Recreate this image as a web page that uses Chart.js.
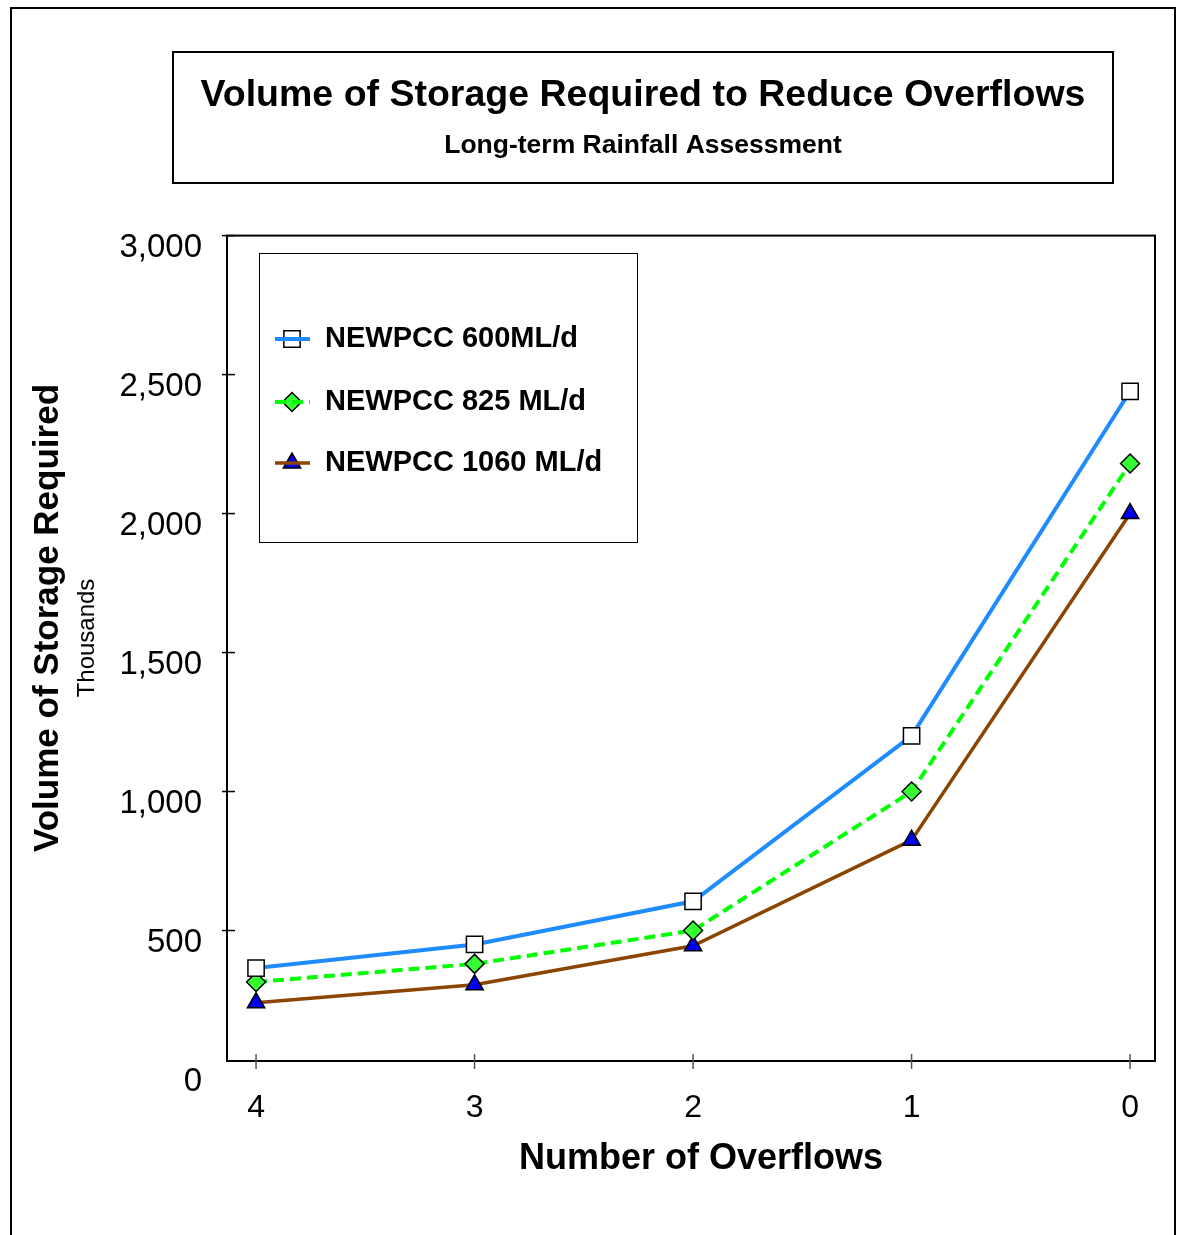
<!DOCTYPE html>
<html>
<head>
<meta charset="utf-8">
<script src="https://cdn.jsdelivr.net/npm/chart.js@4.4.1/dist/chart.umd.min.js"></script>
<style>
  html, body { margin: 0; padding: 0; background: #fff; }
  #wrap { width: 1182px; height: 1235px; }
</style>
</head>
<body>
<div id="wrap"><canvas id="storageChart" width="1182" height="1235"></canvas></div>
<script>
// Datos (miles de m3)
const overflows = [4, 3, 2, 1, 0];
const yTicks = [0, 500, 1000, 1500, 2000, 2500, 3000];
const seriesNames = ['NEWPCC 600ML/d', 'NEWPCC 825 ML/d', 'NEWPCC 1060 ML/d'];
const vol600 = [365, 450, 605, 1200, 2440];
const vol825 = [315, 380, 500, 1000, 2180];
const vol1060 = [240, 305, 445, 825, 2000];

const FONT = "'Liberation Sans', Arial, sans-serif";

function toPoints(values) {
    return overflows.map((x, i) => ({ x: x, y: values[i] }));
}

// Marcos, titulos y leyenda dibujados a mano
const decorPlugin = {
    id: 'decor',
    beforeDatasetsDraw(chart) {
        const ctx = chart.ctx;
        const area = chart.chartArea;
        const xs = chart.scales.x;
        const ys = chart.scales.y;
        const frameBottom = 1061;
        ctx.save();
        // borde exterior
        ctx.strokeStyle = '#000';
        ctx.lineWidth = 2;
        ctx.beginPath();
        ctx.moveTo(11, 1240);
        ctx.lineTo(11, 8);
        ctx.lineTo(1175, 8);
        ctx.lineTo(1175, 1240);
        ctx.stroke();
        // caja del titulo
        ctx.strokeRect(173, 52, 940, 131);
        ctx.fillStyle = '#000';
        ctx.textAlign = 'center';
        ctx.textBaseline = 'middle';
        ctx.font = 'bold 37.5px ' + FONT;
        ctx.fillText('Volume of Storage Required to Reduce Overflows', 643, 96);
        ctx.font = 'bold 26.5px ' + FONT;
        ctx.fillText('Long-term Rainfall Assessment', 643, 146);
        // marco del area de trazado
        ctx.strokeRect(area.left, area.top, area.right - area.left, frameBottom - area.top);
        // marcas del eje y
        ctx.lineWidth = 1.5;
        yTicks.forEach(v => {
            if (v === 0) return;
            const py = ys.getPixelForValue(v);
            ctx.beginPath();
            ctx.moveTo(area.left - 5, py);
            ctx.lineTo(area.left + 8, py);
            ctx.stroke();
        });
        // marcas del eje x
        ctx.strokeStyle = '#555';
        overflows.forEach(v => {
            const px = xs.getPixelForValue(v);
            ctx.beginPath();
            ctx.moveTo(px, frameBottom - 7);
            ctx.lineTo(px, frameBottom + 8);
            ctx.stroke();
        });
        // titulos de ejes
        ctx.fillStyle = '#000';
        ctx.font = 'bold 36px ' + FONT;
        ctx.fillText('Number of Overflows', 701, 1159);
        ctx.save();
        ctx.translate(48, 618);
        ctx.rotate(-Math.PI / 2);
        ctx.font = 'bold 35px ' + FONT;
        ctx.fillText('Volume of Storage Required', 0, 0);
        ctx.restore();
        ctx.save();
        ctx.translate(87, 638);
        ctx.rotate(-Math.PI / 2);
        ctx.font = '24px ' + FONT;
        ctx.fillText('Thousands', 0, 0);
        ctx.restore();
        ctx.restore();
    },
    afterDatasetsDraw(chart) {
        const ctx = chart.ctx;
        ctx.save();
        ctx.fillStyle = '#fff';
        ctx.fillRect(259, 253, 378, 289);
        ctx.strokeStyle = '#000';
        ctx.lineWidth = 1;
        ctx.strokeRect(259.5, 253.5, 378, 289);
        const rows = [339, 402, 463];
        chart.data.datasets.forEach((ds, i) => {
            const y = rows[i];
            ctx.fillStyle = ds.pointBackgroundColor;
            ctx.strokeStyle = ds.pointBorderColor;
            ctx.lineWidth = ds.pointBorderWidth;
            Chart.helpers.drawPoint(ctx, {
                pointStyle: ds.pointStyle,
                radius: ds.pointRadius,
                rotation: 0,
                borderWidth: ds.pointBorderWidth
            }, 292, y);
            ctx.strokeStyle = ds.borderColor;
            ctx.lineWidth = ds.borderWidth;
            ctx.setLineDash(ds.borderDash || []);
            ctx.beginPath();
            ctx.moveTo(275, y);
            ctx.lineTo(310, y);
            ctx.stroke();
            ctx.setLineDash([]);
            ctx.fillStyle = '#000';
            ctx.font = 'bold 29px ' + FONT;
            ctx.textAlign = 'left';
            ctx.textBaseline = 'middle';
            ctx.fillText(ds.label, 325, y);
        });
        ctx.restore();
    }
};

const ctx = document.getElementById('storageChart').getContext('2d');
const storageChart = new Chart(ctx, {
    type: 'line',
    data: {
        datasets: [{
            label: seriesNames[0],
            data: toPoints(vol600),
            borderColor: '#1E8CFF',
            borderWidth: 4,
            pointStyle: 'rect',
            pointRadius: 11.5,
            pointBackgroundColor: '#fff',
            pointBorderColor: '#000',
            pointBorderWidth: 1.5
        }, {
            label: seriesNames[1],
            data: toPoints(vol825),
            borderColor: '#00FF00',
            borderWidth: 4,
            borderDash: [11, 6],
            pointStyle: 'rectRot',
            pointRadius: 9.5,
            pointBackgroundColor: '#33FF33',
            pointBorderColor: '#000',
            pointBorderWidth: 1.5
        }, {
            label: seriesNames[2],
            data: toPoints(vol1060),
            borderColor: '#8B4500',
            borderWidth: 3.5,
            pointStyle: 'triangle',
            pointRadius: 10,
            pointBackgroundColor: '#0000F0',
            pointBorderColor: '#000',
            pointBorderWidth: 1.5
        }]
    },
    options: {
        responsive: false,
        animation: false,
        layout: {
            padding: { left: 0, right: 27, top: 235.6, bottom: 0 }
        },
        plugins: {
            legend: { display: false },
            title: { display: false },
            tooltip: { enabled: false }
        },
        elements: {
            line: { tension: 0 }
        },
        scales: {
            x: {
                type: 'linear',
                reverse: true,
                min: -0.114,
                max: 4.133,
                afterFit: s => { s.height = 165.5; },
                afterBuildTicks: s => { s.ticks = overflows.map(v => ({ value: v })); },
                grid: { display: false, drawTicks: false },
                border: { display: false },
                ticks: {
                    color: '#000',
                    font: { family: FONT, size: 32 },
                    padding: 19,
                    maxRotation: 0,
                    autoSkip: false
                }
            },
            y: {
                min: 0,
                max: 3000,
                afterFit: s => { s.width = 227; },
                afterBuildTicks: s => { s.ticks = yTicks.map(v => ({ value: v })); },
                grid: { display: false, drawTicks: false },
                border: { display: false },
                ticks: {
                    color: '#000',
                    font: { family: FONT, size: 33 },
                    padding: 25,
                    labelOffset: 12.5,
                    callback: v => v.toLocaleString('en-US')
                }
            }
        }
    },
    plugins: [decorPlugin]
});
</script>
</body>
</html>
